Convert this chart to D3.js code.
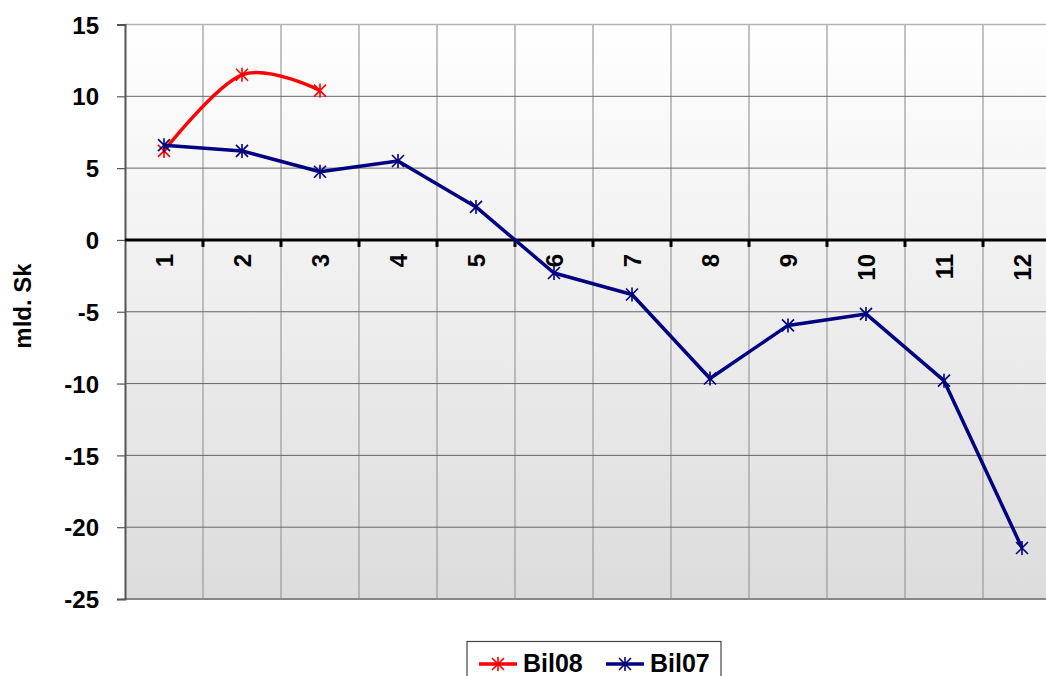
<!DOCTYPE html>
<html>
<head>
<meta charset="utf-8"/>
<script src="https://cdn.jsdelivr.net/npm/d3@7"></script>
<style>
html, body { margin: 0; padding: 0; background: #fff; }
svg { font-family: "Liberation Sans", Arial, sans-serif; font-weight: bold; }
</style>
</head>
<body>
<svg id="chart" width="1046" height="676"></svg>
<script>
// data
var months = ["1","2","3","4","5","6","7","8","9","10","11","12"];
var bil08 = [6.2, 11.5, 10.4];
var bil07 = [6.6, 6.2, 4.75, 5.5, 2.3, -2.3, -3.8, -9.65, -5.95, -5.15, -9.8, -21.45];
var yTicks = [15, 10, 5, 0, -5, -10, -15, -20, -25];

var svg = d3.select("#chart");
var plotLeft = 125, plotTop = 24.5, plotW = 936, plotH = 574.5;

var x = d3.scaleBand().domain(months).range([plotLeft, plotLeft + plotW]);
var y = d3.scaleLinear().domain([-25, 15]).range([plotTop + plotH, plotTop]);

// background gradient
var defs = svg.append("defs");
var grad = defs.append("linearGradient").attr("id", "bg")
    .attr("x1", 0).attr("y1", 0).attr("x2", 0).attr("y2", 1);
grad.append("stop").attr("offset", "0%").attr("stop-color", "#ffffff");
grad.append("stop").attr("offset", "100%").attr("stop-color", "#dcdcdc");

svg.append("rect")
    .attr("x", plotLeft).attr("y", plotTop)
    .attr("width", plotW).attr("height", plotH)
    .attr("fill", "url(#bg)");

// vertical grid
svg.append("g").selectAll("line")
    .data(months.slice(1))
  .enter().append("line")
    .attr("x1", function(d) { return x(d); })
    .attr("x2", function(d) { return x(d); })
    .attr("y1", plotTop).attr("y2", plotTop + plotH)
    .attr("stroke", "#9a9a9a").attr("stroke-width", 1.2);

// horizontal grid
svg.append("g").selectAll("line")
    .data(yTicks.filter(function(d) { return d !== 15 && d !== -25 && d !== 0; }))
  .enter().append("line")
    .attr("x1", plotLeft).attr("x2", plotLeft + plotW)
    .attr("y1", function(d) { return y(d); })
    .attr("y2", function(d) { return y(d); })
    .attr("stroke", "#666").attr("stroke-width", 1);

// top and bottom borders
svg.append("line").attr("x1", plotLeft).attr("x2", 1046)
    .attr("y1", y(15)).attr("y2", y(15))
    .attr("stroke", "#b4b4b4").attr("stroke-width", 1.5);
svg.append("line").attr("x1", plotLeft).attr("x2", 1046)
    .attr("y1", y(-25)).attr("y2", y(-25))
    .attr("stroke", "#888").attr("stroke-width", 2);

// y axis (plain hyphen for negatives, like the original)
var yAxis = d3.axisLeft(y).tickValues(yTicks).tickSize(8).tickPadding(18)
    .tickFormat(function(d) { return String(d); });
var gy = svg.append("g").attr("transform", "translate(" + plotLeft + ",0)").call(yAxis);
gy.select(".domain").attr("stroke", "#555").attr("stroke-width", 2);
gy.selectAll(".tick line").attr("stroke", "#555").attr("stroke-width", 1.2);
gy.selectAll(".tick text")
    .attr("font-size", 24).attr("font-weight", "bold")
    .attr("font-family", "Liberation Sans, Arial, sans-serif")
    .attr("fill", "#000").attr("dy", "0.36em");

// x axis at zero
svg.append("line").attr("x1", plotLeft).attr("x2", 1046)
    .attr("y1", y(0)).attr("y2", y(0))
    .attr("stroke", "#000").attr("stroke-width", 3);
svg.append("g").selectAll("line")
    .data(months.slice(1))
  .enter().append("line")
    .attr("x1", function(d) { return x(d); })
    .attr("x2", function(d) { return x(d); })
    .attr("y1", y(0)).attr("y2", y(0) + 7)
    .attr("stroke", "#000").attr("stroke-width", 3);

svg.append("g").selectAll("text")
    .data(months)
  .enter().append("text")
    .attr("transform", function(d) {
      return "translate(" + (x(d) + x.bandwidth() / 2 + 9) + "," + (y(0) + 14) + ") rotate(-90)";
    })
    .attr("text-anchor", "end")
    .attr("font-size", 24)
    .attr("fill", "#000")
    .text(function(d) { return d; });

// y label
svg.append("text")
    .attr("transform", "translate(31,306) rotate(-90)")
    .attr("text-anchor", "middle")
    .attr("font-size", 24)
    .attr("fill", "#000")
    .text("mld. Sk");

// series
function star(g, cx, cy, color) {
  var r = 6;
  g.append("path")
    .attr("d", "M" + (cx - r) + "," + (cy - r) + "L" + (cx + r) + "," + (cy + r) +
               "M" + (cx - r) + "," + (cy + r) + "L" + (cx + r) + "," + (cy - r) +
               "M" + cx + "," + (cy - r - 1) + "L" + cx + "," + (cy + r + 1))
    .attr("stroke", color).attr("stroke-width", 1.6).attr("fill", "none");
}

var cx = function(i) { return x(months[i]) + x.bandwidth() / 2; };

var line07 = d3.line()
    .x(function(d, i) { return cx(i); })
    .y(function(d) { return y(d); });
var line08 = d3.line()
    .x(function(d, i) { return cx(i); })
    .y(function(d) { return y(d); })
    .curve(d3.curveCatmullRom.alpha(0));

svg.append("path").datum(bil08)
    .attr("d", line08).attr("fill", "none")
    .attr("stroke", "#ff0000").attr("stroke-width", 3.5);
var m08 = svg.append("g");
bil08.forEach(function(d, i) { star(m08, cx(i), y(d), "#ff0000"); });

svg.append("path").datum(bil07)
    .attr("d", line07).attr("fill", "none")
    .attr("stroke", "#000080").attr("stroke-width", 3.5)
    .attr("stroke-linejoin", "round");
var m07 = svg.append("g");
bil07.forEach(function(d, i) { star(m07, cx(i), y(d), "#000080"); });

// legend
var lg = svg.append("g");
lg.append("rect")
    .attr("x", 467).attr("y", 641.5)
    .attr("width", 254).attr("height", 50)
    .attr("fill", "#fff").attr("stroke", "#444").attr("stroke-width", 1.2);
var legendItems = [
  {name: "Bil08", color: "#ff0000", x0: 479},
  {name: "Bil07", color: "#000080", x0: 606}
];
legendItems.forEach(function(it) {
  lg.append("line")
    .attr("x1", it.x0).attr("x2", it.x0 + 38)
    .attr("y1", 664).attr("y2", 664)
    .attr("stroke", it.color).attr("stroke-width", 3.5);
  star(lg, it.x0 + 19, 664, it.color);
  lg.append("text")
    .attr("x", it.x0 + 44).attr("y", 672)
    .attr("font-size", 25).attr("fill", "#000")
    .text(it.name);
});
</script>
</body>
</html>
